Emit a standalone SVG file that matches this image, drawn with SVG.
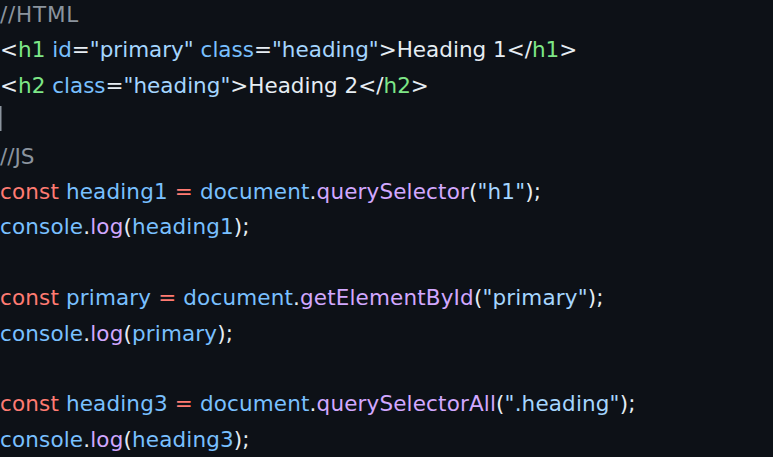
<svg xmlns="http://www.w3.org/2000/svg" width="773" height="457" viewBox="0 0 773 457">
<style>
text{font-family:"DejaVu Sans","Verdana",sans-serif;font-size:21.5px;fill:#c9d1d9;white-space:pre}
.js{letter-spacing:0.15px}
.cm{fill:#8b949e}.tg{fill:#7ee787}.at{fill:#79c0ff}.st{fill:#a5d6ff}.kw{fill:#ff7b72}.fn{fill:#d2a8ff}.pl{fill:#e6edf3}
</style>
<rect width="773" height="457" fill="#0d1117"/>
<g id="code" xml:space="preserve">
<text x="0" y="22" class="cm" letter-spacing="0.8">//HTML</text>
<text x="0" y="57.4"><tspan class="pl">&lt;</tspan><tspan class="tg">h1</tspan> <tspan class="at">id</tspan><tspan class="pl">=</tspan><tspan class="st">"primary"</tspan> <tspan class="at">class</tspan><tspan class="pl">=</tspan><tspan class="st">"heading"</tspan><tspan class="pl">&gt;Heading 1&lt;/</tspan><tspan class="tg">h1</tspan><tspan class="pl">&gt;</tspan></text>
<text x="0" y="92.8"><tspan class="pl">&lt;</tspan><tspan class="tg">h2</tspan> <tspan class="at">class</tspan><tspan class="pl">=</tspan><tspan class="st">"heading"</tspan><tspan class="pl">&gt;Heading 2&lt;/</tspan><tspan class="tg">h2</tspan><tspan class="pl">&gt;</tspan></text>
<text x="0" y="163.6" class="cm">//JS</text>
<text x="0" y="199" class="js"><tspan class="kw">const</tspan> <tspan class="at">heading1</tspan> <tspan class="kw">=</tspan> <tspan class="at">document</tspan><tspan class="pl">.</tspan><tspan class="fn">querySelector</tspan><tspan class="pl">(</tspan><tspan class="st">"h1"</tspan><tspan class="pl">);</tspan></text>
<text x="0" y="234.4" class="js"><tspan class="at">console</tspan><tspan class="pl">.</tspan><tspan class="fn">log</tspan><tspan class="pl">(</tspan><tspan class="at">heading1</tspan><tspan class="pl">);</tspan></text>
<text x="0" y="305.2" class="js"><tspan class="kw">const</tspan> <tspan class="at">primary</tspan> <tspan class="kw">=</tspan> <tspan class="at">document</tspan><tspan class="pl">.</tspan><tspan class="fn">getElementById</tspan><tspan class="pl">(</tspan><tspan class="st">"primary"</tspan><tspan class="pl">);</tspan></text>
<text x="0" y="340.6" class="js"><tspan class="at">console</tspan><tspan class="pl">.</tspan><tspan class="fn">log</tspan><tspan class="pl">(</tspan><tspan class="at">primary</tspan><tspan class="pl">);</tspan></text>
<text x="0" y="411.4" class="js"><tspan class="kw">const</tspan> <tspan class="at">heading3</tspan> <tspan class="kw">=</tspan> <tspan class="at">document</tspan><tspan class="pl">.</tspan><tspan class="fn">querySelectorAll</tspan><tspan class="pl">(</tspan><tspan class="st">".heading"</tspan><tspan class="pl">);</tspan></text>
<text x="0" y="446.8" class="js"><tspan class="at">console</tspan><tspan class="pl">.</tspan><tspan class="fn">log</tspan><tspan class="pl">(</tspan><tspan class="at">heading3</tspan><tspan class="pl">);</tspan></text>
</g>
<rect id="cursor" x="0" y="106" width="1.5" height="25" fill="#8b949e"/>
</svg>
